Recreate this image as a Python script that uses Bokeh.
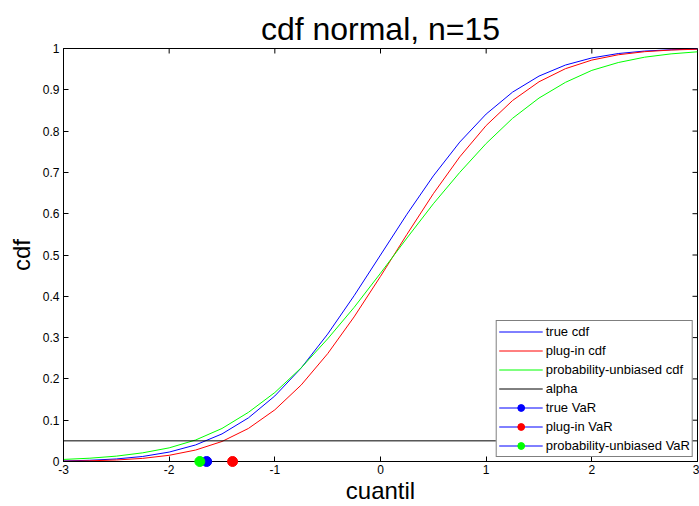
from bokeh.plotting import figure
from bokeh.models import Range1d, FixedTicker, Legend, LegendItem
from bokeh.embed import file_html
from bokeh.resources import INLINE

# ---- data ----
x_grid = [-3.0, -2.75, -2.5, -2.25, -2.0, -1.75, -1.5, -1.25, -1.0, -0.75, -0.5, -0.25,
          0.0, 0.25, 0.5, 0.75, 1.0, 1.25, 1.5, 1.75, 2.0, 2.25, 2.5, 2.75, 3.0]
true_cdf = [0.0013, 0.0030, 0.0062, 0.0122, 0.0228, 0.0401, 0.0668, 0.1056, 0.1587, 0.2266,
            0.3085, 0.4013, 0.5000, 0.5987, 0.6915, 0.7734, 0.8413, 0.8944, 0.9332, 0.9599,
            0.9772, 0.9878, 0.9938, 0.9970, 0.9987]
plugin_cdf = [0.0007, 0.0017, 0.0037, 0.0076, 0.0150, 0.0277, 0.0485, 0.0800, 0.1251, 0.1854,
              0.2611, 0.3501, 0.4483, 0.5499, 0.6484, 0.7376, 0.8135, 0.8741, 0.9194, 0.9511,
              0.9720, 0.9848, 0.9923, 0.9963, 0.9983]
unbiased_cdf = [0.005, 0.008, 0.013, 0.021, 0.033, 0.052, 0.080, 0.119, 0.167, 0.227,
                0.297, 0.373, 0.456, 0.541, 0.624, 0.700, 0.770, 0.831, 0.880, 0.918,
                0.947, 0.966, 0.979, 0.987, 0.992]
alpha_x = [-3.0, 3.0]
alpha_y = [0.05, 0.05]
var_names = ["true VaR", "plug-in VaR", "probability-unbiased VaR"]
var_x = [-1.645, -1.40, -1.71]
var_y = [0.0, 0.0, 0.0]
var_colors = ["#0000FF", "#FF0000", "#00FF00"]

x_ticks = [-3, -2, -1, 0, 1, 2, 3]
x_tick_labels = ["-3", "-2", "-1", "0", "1", "2", "3"]
y_ticks = [0, 0.1, 0.2, 0.3, 0.4, 0.5, 0.6, 0.7, 0.8, 0.9, 1]
y_tick_labels = ["0", "0.1", "0.2", "0.3", "0.4", "0.5", "0.6", "0.7", "0.8", "0.9", "1"]

FONT = "Liberation Sans"
W, H = 699, 506
BL, BR, BT, BB = 63, 2, 48, 45
X0, X1, Y0, Y1 = -3.0, 3.0, 0.0, 1.0

p = figure(width=W, height=H, output_backend="svg", toolbar_location=None,
           x_range=Range1d(X0, X1), y_range=Range1d(Y0, Y1),
           min_border_left=BL, min_border_right=BR, min_border_top=BT, min_border_bottom=BB)
p.background_fill_color = "white"
p.border_fill_color = "white"
p.outline_line_color = "black"
p.outline_line_width = 1
p.xgrid.visible = False
p.ygrid.visible = False

p.title.text = "cdf normal, n=15"
p.title.align = "center"
p.title.text_font = FONT
p.title.text_font_size = "32px"
p.title.text_font_style = "normal"
p.title.text_color = "black"
p.title.standoff = 4

def style_axis(ax, ticks, labels):
    ax.ticker = FixedTicker(ticks=ticks)
    ax.major_tick_in = 5
    ax.major_tick_out = 0
    ax.minor_tick_in = 0
    ax.minor_tick_out = 0
    ax.axis_line_color = "black"
    ax.major_tick_line_color = "black"
    ax.major_label_overrides = {t: l for t, l in zip(ticks, labels)}
    ax.major_label_text_font = FONT
    ax.major_label_text_font_size = "12px"
    ax.major_label_text_color = "black"
    ax.major_label_standoff = 4

xa = p.xaxis[0]
ya = p.yaxis[0]
style_axis(xa, x_ticks, x_tick_labels)
style_axis(ya, y_ticks, y_tick_labels)
xa.major_label_standoff = 3
xa.axis_label = "cuantil"
ya.axis_label = "cdf"
for ax in (xa, ya):
    ax.axis_label_text_font = FONT
    ax.axis_label_text_font_size = "24px"
    ax.axis_label_text_font_style = "normal"
    ax.axis_label_text_color = "black"
xa.axis_label_standoff = 0
ya.axis_label_standoff = 5

# inward tick marks on the top and right edges of the box (MATLAB "box on")
frame_w = W - BL - BR
frame_h = H - BT - BB
tick_dx = 5 * (X1 - X0) / frame_w
tick_dy = 5 * (Y1 - Y0) / frame_h
p.segment(x0=x_ticks, y0=[Y1] * len(x_ticks), x1=x_ticks, y1=[Y1 - tick_dy] * len(x_ticks),
          line_color="black", line_width=1)
p.segment(x0=[X1] * len(y_ticks), y0=y_ticks, x1=[X1 - tick_dx] * len(y_ticks), y1=y_ticks,
          line_color="black", line_width=1)

r_true = p.line(x_grid, true_cdf, line_color="#0000FF", line_width=1)
r_plug = p.line(x_grid, plugin_cdf, line_color="#FF0000", line_width=1)
r_unb = p.line(x_grid, unbiased_cdf, line_color="#00FF00", line_width=1)
r_alpha = p.line(alpha_x, alpha_y, line_color="black", line_width=1)

items = [LegendItem(label="true cdf", renderers=[r_true]),
         LegendItem(label="plug-in cdf", renderers=[r_plug]),
         LegendItem(label="probability-unbiased cdf", renderers=[r_unb]),
         LegendItem(label="alpha", renderers=[r_alpha])]

for name, vx, vy, c in zip(var_names, var_x, var_y, var_colors):
    rl = p.line([vx], [vy], line_color="#0000FF", line_width=1)
    rs = p.scatter([vx], [vy], size=10, marker="circle", fill_color=c, line_color=c,
                   level="overlay")
    items.append(LegendItem(label=name, renderers=[rl, rs]))

legend = Legend(items=items, location="bottom_right")
legend.label_text_font = FONT
legend.label_text_font_size = "13px"
legend.label_text_color = "black"
legend.label_height = 17
legend.glyph_height = 17
legend.glyph_width = 44
legend.spacing = 2
legend.padding = 2
legend.margin = 4
legend.label_standoff = 3
legend.border_line_color = "black"
legend.border_line_width = 1
legend.background_fill_color = "white"
legend.background_fill_alpha = 1
p.add_layout(legend)

open("out.html", "w").write(file_html(p, INLINE))
